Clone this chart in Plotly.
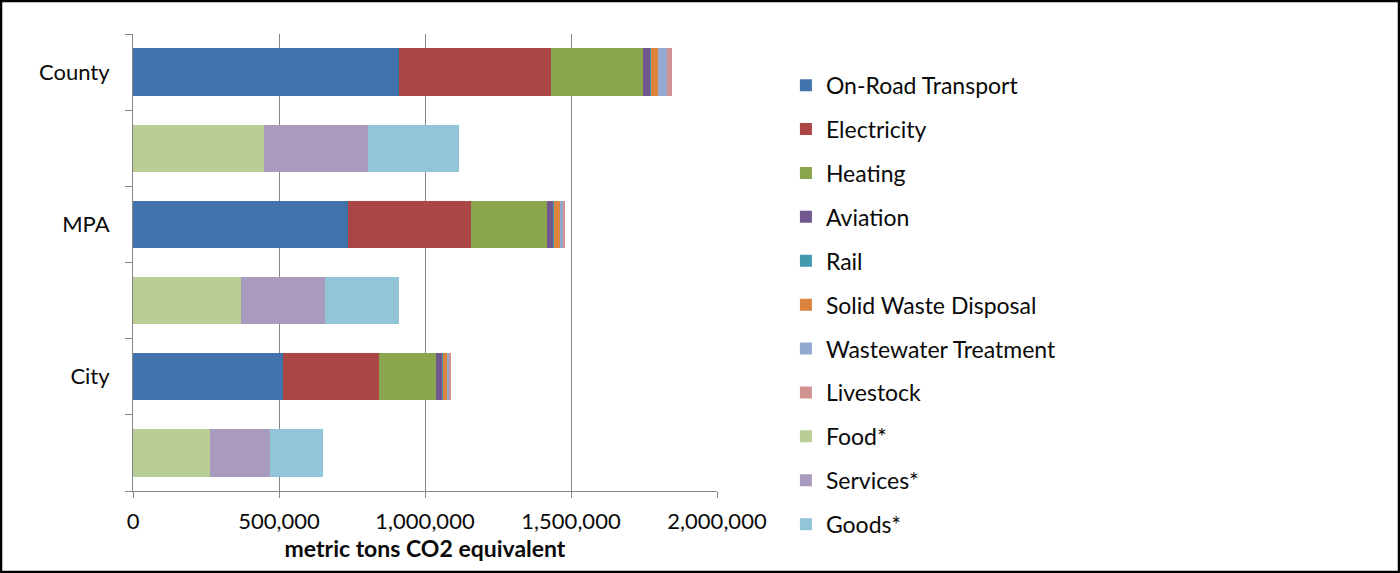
import plotly.graph_objects as go

# Row order, top to bottom: sector emissions bar followed by the consumption bar
rows = ["County", "County consumption", "MPA", "MPA consumption", "City", "City consumption"]
row_labels = ["County", "", "MPA", "", "City", ""]

# Sector emissions (metric tons CO2e) for County, MPA, City
on_road = [911000, 736000, 514000]
electricity = [520000, 421000, 329000]
heating = [315000, 260000, 195000]
aviation = [25000, 23000, 22000]
rail = [3000, 2000, 1000]
solid_waste = [24000, 20000, 14000]
wastewater = [30000, 14000, 10000]
livestock = [17000, 3000, 1000]

# Consumption-based categories for County, MPA, City
food = [449000, 370000, 264000]
services = [356000, 288000, 205000]
goods = [312000, 253000, 182000]

x_ticks = [0, 500000, 1000000, 1500000, 2000000]
x_tick_text = ["0", "500,000", "1,000,000", "1,500,000", "2,000,000"]

sectors = [
    ("On-Road Transport", on_road, "#4272AB", False),
    ("Electricity", electricity, "#AA4643", False),
    ("Heating", heating, "#89A54E", False),
    ("Aviation", aviation, "#71588F", False),
    ("Rail", rail, "#4198AF", False),
    ("Solid Waste Disposal", solid_waste, "#DB843D", False),
    ("Wastewater Treatment", wastewater, "#93A9CF", False),
    ("Livestock", livestock, "#D19392", False),
    ("Food*", food, "#B9CD96", True),
    ("Services*", services, "#A99BBD", True),
    ("Goods*", goods, "#92C5D7", True),
]

W, H = 1400, 573
L, R, T, B = 133, 683, 34, 82
FONT = "Lato, 'Open Sans', sans-serif"
GRID = "#878787"
TEXT = "#0a0a0a"

fig = go.Figure()
for name, vals, color, consumption in sectors:
    xs = []
    for v in vals:
        if consumption:
            xs += [None, v]
        else:
            xs += [v, None]
    fig.add_trace(go.Bar(
        name=name, y=rows, x=xs, orientation="h",
        marker=dict(color=color, line=dict(width=0)),
        legendgroup=name,
    ))

fig.update_layout(
    width=W, height=H,
    margin=dict(l=L, r=R, t=T, b=B),
    barmode="stack",
    bargap=0.38,
    plot_bgcolor="white",
    paper_bgcolor="white",
    font=dict(family=FONT, size=22, color=TEXT),
    legend=dict(
        x=1.118, xanchor="left", y=0.935, yanchor="top",
        traceorder="grouped",
        font=dict(family=FONT, size=23, color=TEXT),
        tracegroupgap=11,
        itemwidth=30,
        maxheight=560,
        bgcolor="rgba(0,0,0,0)",
    ),
    xaxis=dict(
        range=[0, 2000000],
        tickvals=x_ticks, ticktext=x_tick_text,
        showgrid=True, gridcolor=GRID, gridwidth=1,
        showline=True, linecolor=GRID, linewidth=1,
        ticks="outside", ticklen=6, tickcolor=GRID,
        ticklabelstandoff=5,
        zeroline=False,
        tickfont=dict(family=FONT, size=22, color=TEXT),
        title=dict(text="<b>metric tons CO2 equivalent</b>",
                   font=dict(family=FONT, size=23, color=TEXT),
                   standoff=6),
    ),
    yaxis=dict(
        type="category",
        categoryorder="array", categoryarray=rows,
        tickmode="array", tickvals=rows, ticktext=row_labels,
        autorange="reversed",
        tickson="boundaries",
        showgrid=False,
        showline=True, linecolor=GRID, linewidth=1,
        ticks="outside", ticklen=7, tickcolor=GRID,
        ticklabelstandoff=18,
        tickfont=dict(family=FONT, size=22, color=TEXT),
    ),
)

# Frame around the whole figure
pw, ph = W - L - R, H - T - B
fig.add_shape(
    type="rect", xref="paper", yref="paper",
    x0=(1 - L) / pw, x1=(W - 1 - L) / pw,
    y0=-(H - 1 - T - ph) / ph, y1=(T - 1) / ph + 1,
    line=dict(color="black", width=2.5),
    fillcolor="rgba(0,0,0,0)",
    layer="above",
)

fig.write_html("out.html")
